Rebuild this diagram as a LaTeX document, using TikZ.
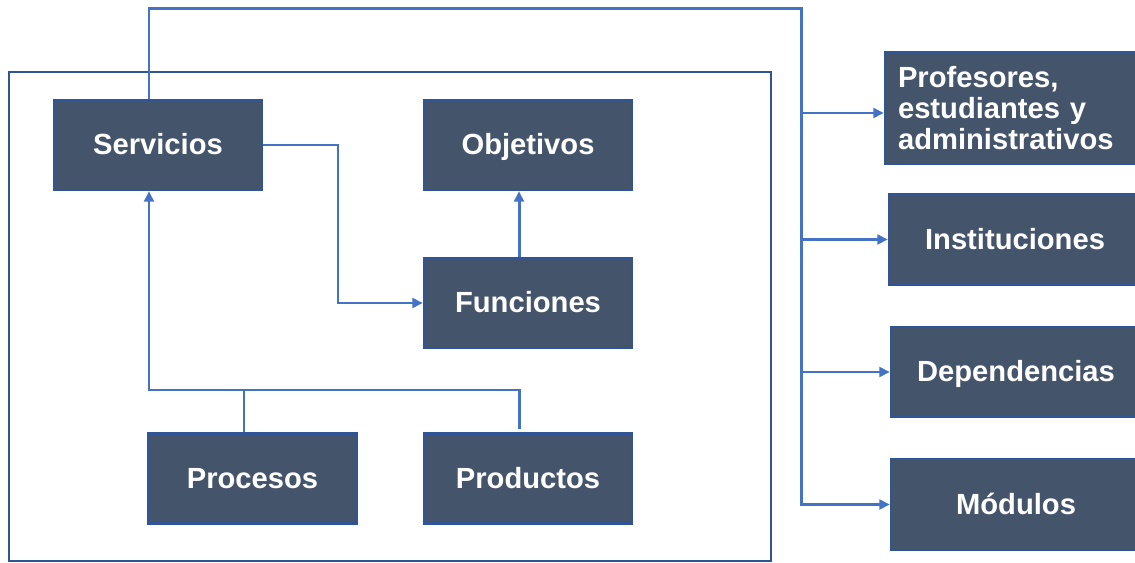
\documentclass[tikz,border=0pt]{standalone}
\usepackage{fontspec}
\setmainfont{Liberation Sans}
\usetikzlibrary{arrows.meta}
\definecolor{boxfill}{HTML}{44546A}
\definecolor{boxedge}{HTML}{2F5597}
\definecolor{linkblue}{HTML}{4472C4}
\begin{document}
\begin{tikzpicture}[x=0.02cm,y=-0.02cm,
  boxbase/.style={draw=boxedge,line width=1.3pt,fill=boxfill,text=white,
    font=\bfseries\fontsize{16.6}{17.6}\selectfont,inner sep=0pt},
  box/.style={boxbase,text height=11.3pt,text depth=0pt},
  frame/.style={draw=boxedge,line width=1.6pt,inner sep=0pt},
  link/.style={draw=linkblue,line width=1.7pt},
  arr/.style={link,-{Triangle[length=6pt,width=5.5pt]}}]
\useasboundingbox (0,0) rectangle (1135,563);
\clip (0,0) rectangle (1135,563);
\fill[white] (0,0) rectangle (1135,563);
% outer frame
\node[frame,minimum width=15.24cm,minimum height=9.78cm] (fr) at (390,316.5) {};
% inner boxes
\node[box,minimum width=4.16cm,minimum height=1.8cm] (serv) at (158,145) {Servicios};
\node[box,minimum width=4.16cm,minimum height=1.8cm] (obj) at (528,145) {Objetivos};
\node[box,minimum width=4.16cm,minimum height=1.8cm] (func) at (528,303) {Funciones};
\node[box,minimum width=4.18cm,minimum height=1.8cm] (proc) at (252.5,478.5) {Procesos};
\node[box,minimum width=4.16cm,minimum height=1.8cm] (prod) at (528,478.5) {Productos};
% right boxes
\node[boxbase,minimum width=5.12cm,minimum height=2.24cm,text width=4.6cm,align=left,inner xsep=0.26cm] (prof) at (1013,108) {Profesores,\\estudiantes y\\administrativos};
\node[box,minimum width=5.04cm,minimum height=1.82cm] (inst) at (1015,239.5) {Instituciones};
\node[box,minimum width=5.0cm,minimum height=1.8cm] (dep) at (1016,372) {Dependencias};
\node[box,minimum width=5.0cm,minimum height=1.82cm] (mod) at (1016,504.5) {Módulos};
% coordinates
\coordinate (tr) at (801,9);
\coordinate (b1) at (801,113);
\coordinate (b2) at (801,239.5);
\coordinate (b3) at (801,372);
\coordinate (sf) at (338,0);
\coordinate (hb) at (149,390);
% connectors
\draw[arr] ([xshift=-0.18cm]serv.north) |- (tr) |- (mod.west);
\draw[arr] (b1) -- (prof.west |- b1);
\draw[arr] (b2) -- (inst.west);
\draw[arr] (b3) -- (dep.west);
\draw[arr] (serv.east) -- (serv.east -| sf) |- (func.west);
\draw[arr] ([xshift=-0.18cm]func.north) -- ([xshift=-0.18cm]obj.south);
\draw[link] ([xshift=-0.17cm]proc.north) |- (hb);
\draw[arr] ([xshift=-0.18cm,yshift=0.06cm]prod.north) |- (hb) -- (hb |- serv.south);
\end{tikzpicture}
\end{document}
